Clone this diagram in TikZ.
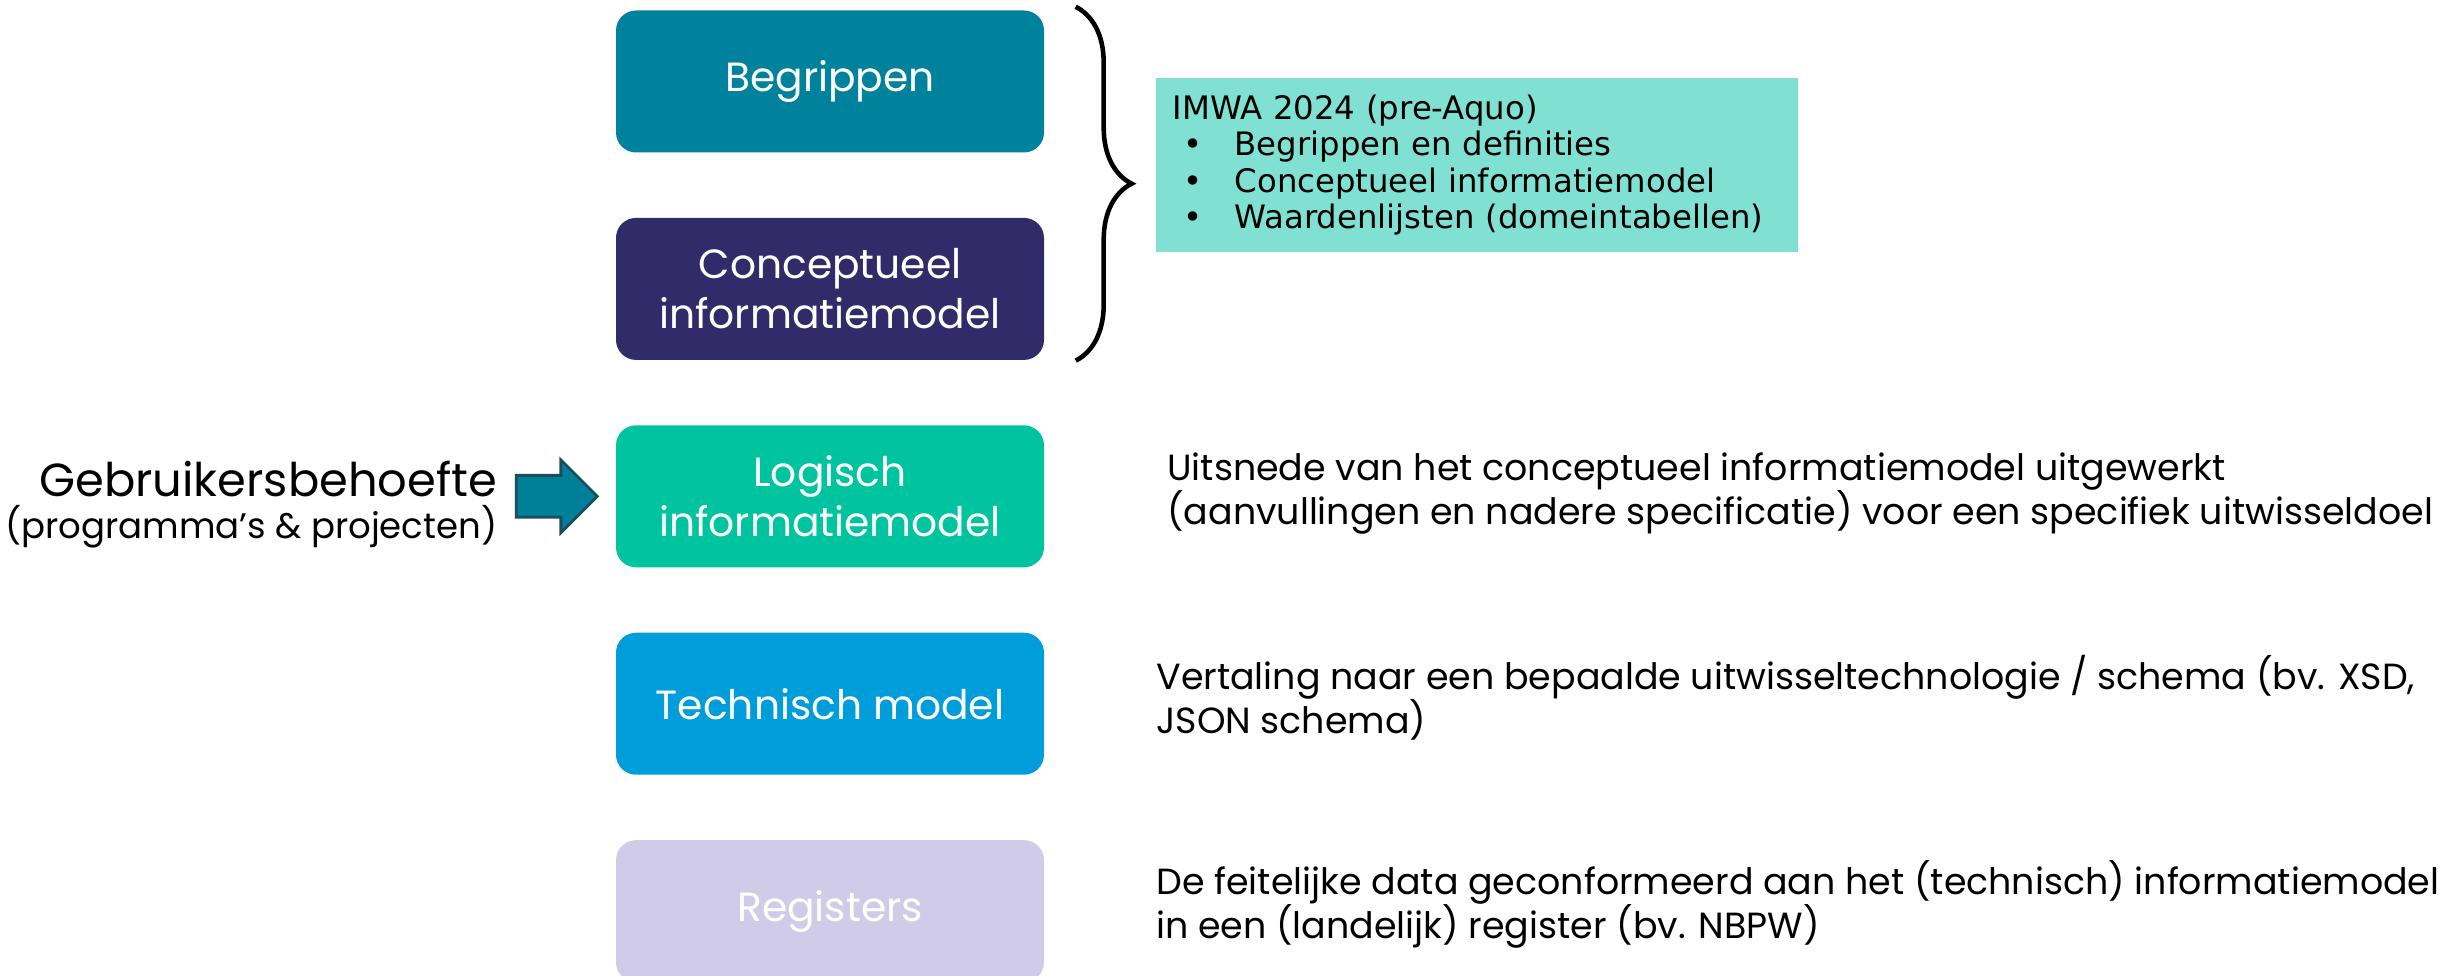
\documentclass[tikz,border=0pt]{standalone}
\usepackage{fontspec}
\setmainfont{Poppins}
\newfontfamily\infofont{DejaVu Sans}
\usepackage{xcolor}
\usetikzlibrary{positioning,shapes.arrows,decorations.pathreplacing}

\definecolor{begrcol}{HTML}{00829C}
\definecolor{conccol}{HTML}{322B6A}
\definecolor{logicol}{HTML}{00C49F}
\definecolor{techcol}{HTML}{009DDB}
\definecolor{regcol}{HTML}{D0CCE8}
\definecolor{infocol}{HTML}{80E1D3}
\definecolor{arrfill}{HTML}{007F98}
\definecolor{arrline}{HTML}{1B4D5C}

\begin{document}
\begin{tikzpicture}[
  stage/.style={rounded corners=0.2cm, minimum width=4.28cm, minimum height=1.42cm, text=white, align=center, font=\fontsize{11.6}{14.2}\selectfont},
  desc/.style={inner sep=0pt, align=left, anchor=west, font=\fontsize{10.35}{12.6}\selectfont},
  infobox/.style={fill=infocol, anchor=west, text width=6.08cm, minimum height=1.74cm, inner xsep=0.17cm, align=left, font=\infofont\fontsize{9.2}{10.4}\selectfont},
  blockarrow/.style={single arrow, fill=arrfill, draw=arrline, line width=0.8pt, inner xsep=0pt, inner ysep=0.195cm, minimum height=0.81cm, single arrow head extend=0.155cm},
  bracedeco/.style={decorate, decoration={brace, amplitude=0.56cm}, line width=1.3pt},
  node distance=0.64cm and 1.11cm,
]
  \useasboundingbox (0,0) rectangle (24.5,9.75);

  % layers
  \node[stage, fill=begrcol] (begr) at (8.30,8.935) {Begrippen};
  \node[stage, fill=conccol, below=of begr] (conc) {Conceptueel\\informatiemodel};
  \node[stage, fill=logicol, below=of conc] (logi) {Logisch\\informatiemodel};
  \node[stage, fill=techcol, below=of logi] (tech) {Technisch model};
  \node[stage, fill=regcol, below=of tech] (regi) {Registers};

  % brace + IMWA
  \draw[bracedeco] ([xshift=0.31cm,yshift=0.03cm]begr.north east) -- ([xshift=0.31cm]conc.south east);
  \node[infobox] (imwa) at (11.55,8.10) {IMWA 2024 (pre-Aquo)\\
    \hspace*{0.11cm}\makebox[0.51cm][l]{•}Begrippen en definities\\
    \hspace*{0.11cm}\makebox[0.51cm][l]{•}Conceptueel informatiemodel\\
    \hspace*{0.11cm}\makebox[0.51cm][l]{•}Waardenlijsten (domeintabellen)};

  % user need
  \node[blockarrow, left=0.16cm of logi] (arr) {};
  \node[inner sep=0pt, align=right, left=0.17cm of arr, yshift=-0.08cm] (need) {{\fontsize{13.2}{16}\selectfont Gebruikersbehoefte}\\{\fontsize{10.1}{16}\selectfont (programma’s \& projecten)}};

  % descriptions
  \node[desc, right=of logi, xshift=0.11cm, yshift=0.03cm] (logidesc) {Uitsnede van het conceptueel informatiemodel uitgewerkt\\(aanvullingen en nadere specificatie) voor een specifiek uitwisseldoel};
  \node[desc, right=of tech, yshift=0.06cm] (techdesc) {Vertaling naar een bepaalde uitwisseltechnologie / schema (bv. XSD,\\JSON schema)};
  \node[desc, right=of regi, yshift=0.07cm] (regidesc) {De feitelijke data geconformeerd aan het (technisch) informatiemodel\\in een (landelijk) register (bv. NBPW)};
\end{tikzpicture}
\end{document}
